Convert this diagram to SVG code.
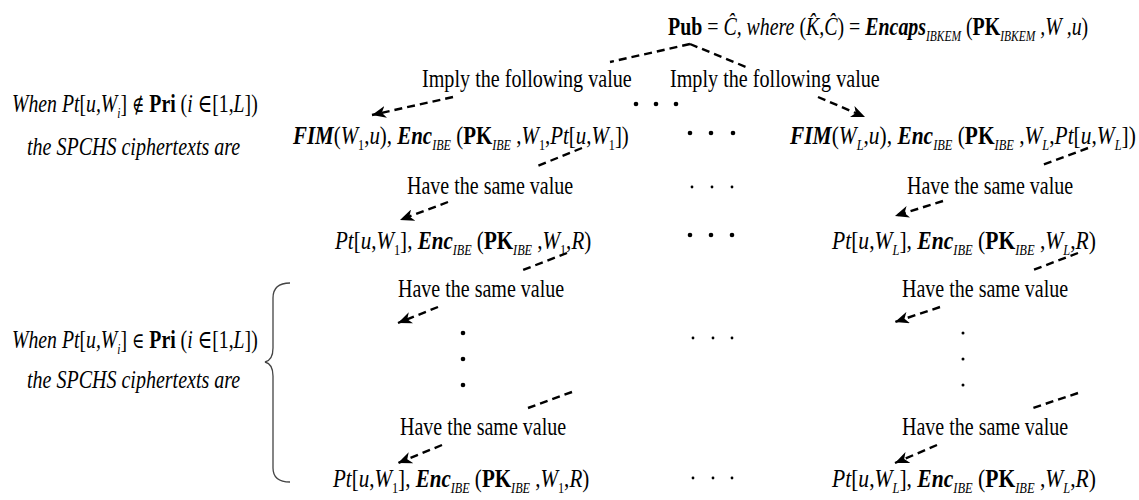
<svg xmlns="http://www.w3.org/2000/svg" width="1139" height="500" viewBox="0 0 1139 500">
<defs>
<style>
text{font-family:"Liberation Serif","DejaVu Serif",serif;font-size:26px;fill:#000}
.i{font-style:italic}
.b{font-weight:bold}
.n{font-style:normal}
.s{font-size:15px}
.sym{font-family:"DejaVu Serif",serif;font-style:normal;font-size:22px}
.c{fill:none;stroke:#000;stroke-width:2.4;stroke-dasharray:8 5}
.d{fill:#000}
</style>
<marker id="ah" markerUnits="userSpaceOnUse" markerWidth="16" markerHeight="12" refX="14" refY="6" orient="auto">
<path d="M0,0 L14,6 L0,12 L4,6 z" fill="#000"/>
</marker>
</defs>
<rect width="1139" height="500" fill="#fff"/>

<g id="pub">
<text transform="translate(668,35) scale(0.765,1)"><tspan class="b">Pub</tspan> = <tspan class="i">Ĉ, where </tspan>(<tspan class="i">K̂,Ĉ</tspan>) = <tspan class="i b">Encaps</tspan><tspan class="i s" dy="6">IBKEM</tspan><tspan dy="-6"> (</tspan><tspan class="b">PK</tspan><tspan class="i s" dy="6">IBKEM</tspan><tspan class="i" dy="-6"> ,W ,u</tspan>)</text>
</g>

<g id="cond1">
<text class="i" transform="translate(12,112) scale(0.76,1)">When Pt<tspan class="n">[</tspan>u,W<tspan class="s" dy="6">i</tspan><tspan class="n" dy="-6">] </tspan><tspan class="sym">∉</tspan> <tspan class="b n">Pri</tspan> <tspan class="n">(</tspan>i ∈<tspan class="n">[1,</tspan>L<tspan class="n">])</tspan></text>
<text class="i" transform="translate(27,155) scale(0.77,1)">the SPCHS ciphertexts are</text>
</g>

<g id="cond2">
<text class="i" transform="translate(12,348) scale(0.76,1)">When Pt<tspan class="n">[</tspan>u,W<tspan class="s" dy="6">i</tspan><tspan class="n" dy="-6">] </tspan><tspan class="sym">∈</tspan> <tspan class="b n">Pri</tspan> <tspan class="n">(</tspan>i ∈<tspan class="n">[1,</tspan>L<tspan class="n">])</tspan></text>
<text class="i" transform="translate(27,388) scale(0.77,1)">the SPCHS ciphertexts are</text>
<path d="M290,283 Q273,283 273,298 L273,348 Q273,360 265,362 Q273,364 273,376 L273,468 Q273,482 290,482" fill="none" stroke="#444" stroke-width="1.3"/>
</g>

<g id="imply1"><text transform="translate(422,87) scale(0.775,1)">Imply the following value</text></g>
<g id="imply2"><text transform="translate(670,87) scale(0.775,1)">Imply the following value</text></g>

<g id="r1l">
<text transform="translate(293,144) scale(0.805,1)"><tspan class="i b">FIM</tspan>(<tspan class="i">W</tspan><tspan class="s" dy="6">1</tspan><tspan dy="-6">,</tspan><tspan class="i">u</tspan>), <tspan class="i b">Enc</tspan><tspan class="i s" dy="6">IBE</tspan><tspan dy="-6"> (</tspan><tspan class="b">PK</tspan><tspan class="i s" dy="6">IBE</tspan><tspan dy="-6"> ,</tspan><tspan class="i">W</tspan><tspan class="s" dy="6">1</tspan><tspan dy="-6">,</tspan><tspan class="i">Pt</tspan>[<tspan class="i">u</tspan>,<tspan class="i">W</tspan><tspan class="s" dy="6">1</tspan><tspan dy="-6">])</tspan></text>
</g>
<g id="r1r">
<text transform="translate(790,144) scale(0.824,1)"><tspan class="i b">FIM</tspan>(<tspan class="i">W</tspan><tspan class="i s" dy="6">L</tspan><tspan dy="-6">,</tspan><tspan class="i">u</tspan>), <tspan class="i b">Enc</tspan><tspan class="i s" dy="6">IBE</tspan><tspan dy="-6"> (</tspan><tspan class="b">PK</tspan><tspan class="i s" dy="6">IBE</tspan><tspan dy="-6"> ,</tspan><tspan class="i">W</tspan><tspan class="i s" dy="6">L</tspan><tspan dy="-6">,</tspan><tspan class="i">Pt</tspan>[<tspan class="i">u</tspan>,<tspan class="i">W</tspan><tspan class="i s" dy="6">L</tspan><tspan dy="-6">])</tspan></text>
</g>

<g id="h1l"><text transform="translate(407,194) scale(0.77,1)">Have the same value</text></g>
<g id="h1r"><text transform="translate(907,194) scale(0.77,1)">Have the same value</text></g>

<g id="r2l">
<text transform="translate(335,249) scale(0.81,1)"><tspan class="i">Pt</tspan>[<tspan class="i">u</tspan>,<tspan class="i">W</tspan><tspan class="s" dy="6">1</tspan><tspan dy="-6">], </tspan><tspan class="i b">Enc</tspan><tspan class="i s" dy="6">IBE</tspan><tspan dy="-6"> (</tspan><tspan class="b">PK</tspan><tspan class="i s" dy="6">IBE</tspan><tspan dy="-6"> ,</tspan><tspan class="i">W</tspan><tspan class="s" dy="6">1</tspan><tspan dy="-6">,</tspan><tspan class="i">R</tspan>)</text>
</g>
<g id="r2r">
<text transform="translate(832,249) scale(0.83,1)"><tspan class="i">Pt</tspan>[<tspan class="i">u</tspan>,<tspan class="i">W</tspan><tspan class="i s" dy="6">L</tspan><tspan dy="-6">], </tspan><tspan class="i b">Enc</tspan><tspan class="i s" dy="6">IBE</tspan><tspan dy="-6"> (</tspan><tspan class="b">PK</tspan><tspan class="i s" dy="6">IBE</tspan><tspan dy="-6"> ,</tspan><tspan class="i">W</tspan><tspan class="i s" dy="6">L</tspan><tspan dy="-6">,</tspan><tspan class="i">R</tspan>)</text>
</g>

<g id="h2l"><text transform="translate(398,297) scale(0.77,1)">Have the same value</text></g>
<g id="h2r"><text transform="translate(902,297) scale(0.77,1)">Have the same value</text></g>

<g id="h3l"><text transform="translate(400,435) scale(0.77,1)">Have the same value</text></g>
<g id="h3r"><text transform="translate(902,435) scale(0.77,1)">Have the same value</text></g>

<g id="r3l">
<text transform="translate(333,487) scale(0.81,1)"><tspan class="i">Pt</tspan>[<tspan class="i">u</tspan>,<tspan class="i">W</tspan><tspan class="s" dy="6">1</tspan><tspan dy="-6">], </tspan><tspan class="i b">Enc</tspan><tspan class="i s" dy="6">IBE</tspan><tspan dy="-6"> (</tspan><tspan class="b">PK</tspan><tspan class="i s" dy="6">IBE</tspan><tspan dy="-6"> ,</tspan><tspan class="i">W</tspan><tspan class="s" dy="6">1</tspan><tspan dy="-6">,</tspan><tspan class="i">R</tspan>)</text>
</g>
<g id="r3r">
<text transform="translate(832,487) scale(0.83,1)"><tspan class="i">Pt</tspan>[<tspan class="i">u</tspan>,<tspan class="i">W</tspan><tspan class="i s" dy="6">L</tspan><tspan dy="-6">], </tspan><tspan class="i b">Enc</tspan><tspan class="i s" dy="6">IBE</tspan><tspan dy="-6"> (</tspan><tspan class="b">PK</tspan><tspan class="i s" dy="6">IBE</tspan><tspan dy="-6"> ,</tspan><tspan class="i">W</tspan><tspan class="i s" dy="6">L</tspan><tspan dy="-6">,</tspan><tspan class="i">R</tspan>)</text>
</g>

<g id="dots" class="d">
<circle cx="636" cy="104" r="2.3"/><circle cx="656" cy="104" r="2.3"/><circle cx="676" cy="104" r="2.3"/>
<circle cx="690" cy="133" r="2.3"/><circle cx="711" cy="133" r="2.3"/><circle cx="733" cy="133" r="2.3"/>
<circle cx="692" cy="187" r="1.4"/><circle cx="712" cy="187" r="1.4"/><circle cx="732" cy="187" r="1.4"/>
<circle cx="690" cy="235" r="2.3"/><circle cx="711" cy="235" r="2.3"/><circle cx="732" cy="235" r="2.3"/>
<circle cx="693" cy="338" r="1.4"/><circle cx="713" cy="338" r="1.4"/><circle cx="732" cy="338" r="1.4"/>
<circle cx="693" cy="478" r="1.4"/><circle cx="713" cy="478" r="1.4"/><circle cx="732" cy="478" r="1.4"/>
<circle cx="463" cy="333" r="2.3"/><circle cx="463" cy="359" r="2.3"/><circle cx="463" cy="385" r="2.3"/>
<circle cx="963" cy="333" r="1.5"/><circle cx="963" cy="359" r="1.5"/><circle cx="963" cy="385" r="1.5"/>
</g>

<g id="connectors">
<path class="c" d="M690,44 L610,62 M453,97 L372,115" marker-end="url(#ah)"/>
<path class="c" d="M690,44 L746,67 M818,97 L865,117" marker-end="url(#ah)"/>
<path class="c" d="M582,148 L535,167 M448,202 L400,220" marker-end="url(#ah)"/>
<path class="c" d="M1088,148 L1042,165 M943,201 L895,216" marker-end="url(#ah)"/>
<path class="c" d="M567,253 L523,270 M438,307 L398,323" marker-end="url(#ah)"/>
<path class="c" d="M1078,253 L1033,270 M940,307 L895,322" marker-end="url(#ah)"/>
<path class="c" d="M572,392 L528,408 M442,445 L398,463" marker-end="url(#ah)"/>
<path class="c" d="M1078,393 L1033,408 M937,445 L895,463" marker-end="url(#ah)"/>
</g>
</svg>
